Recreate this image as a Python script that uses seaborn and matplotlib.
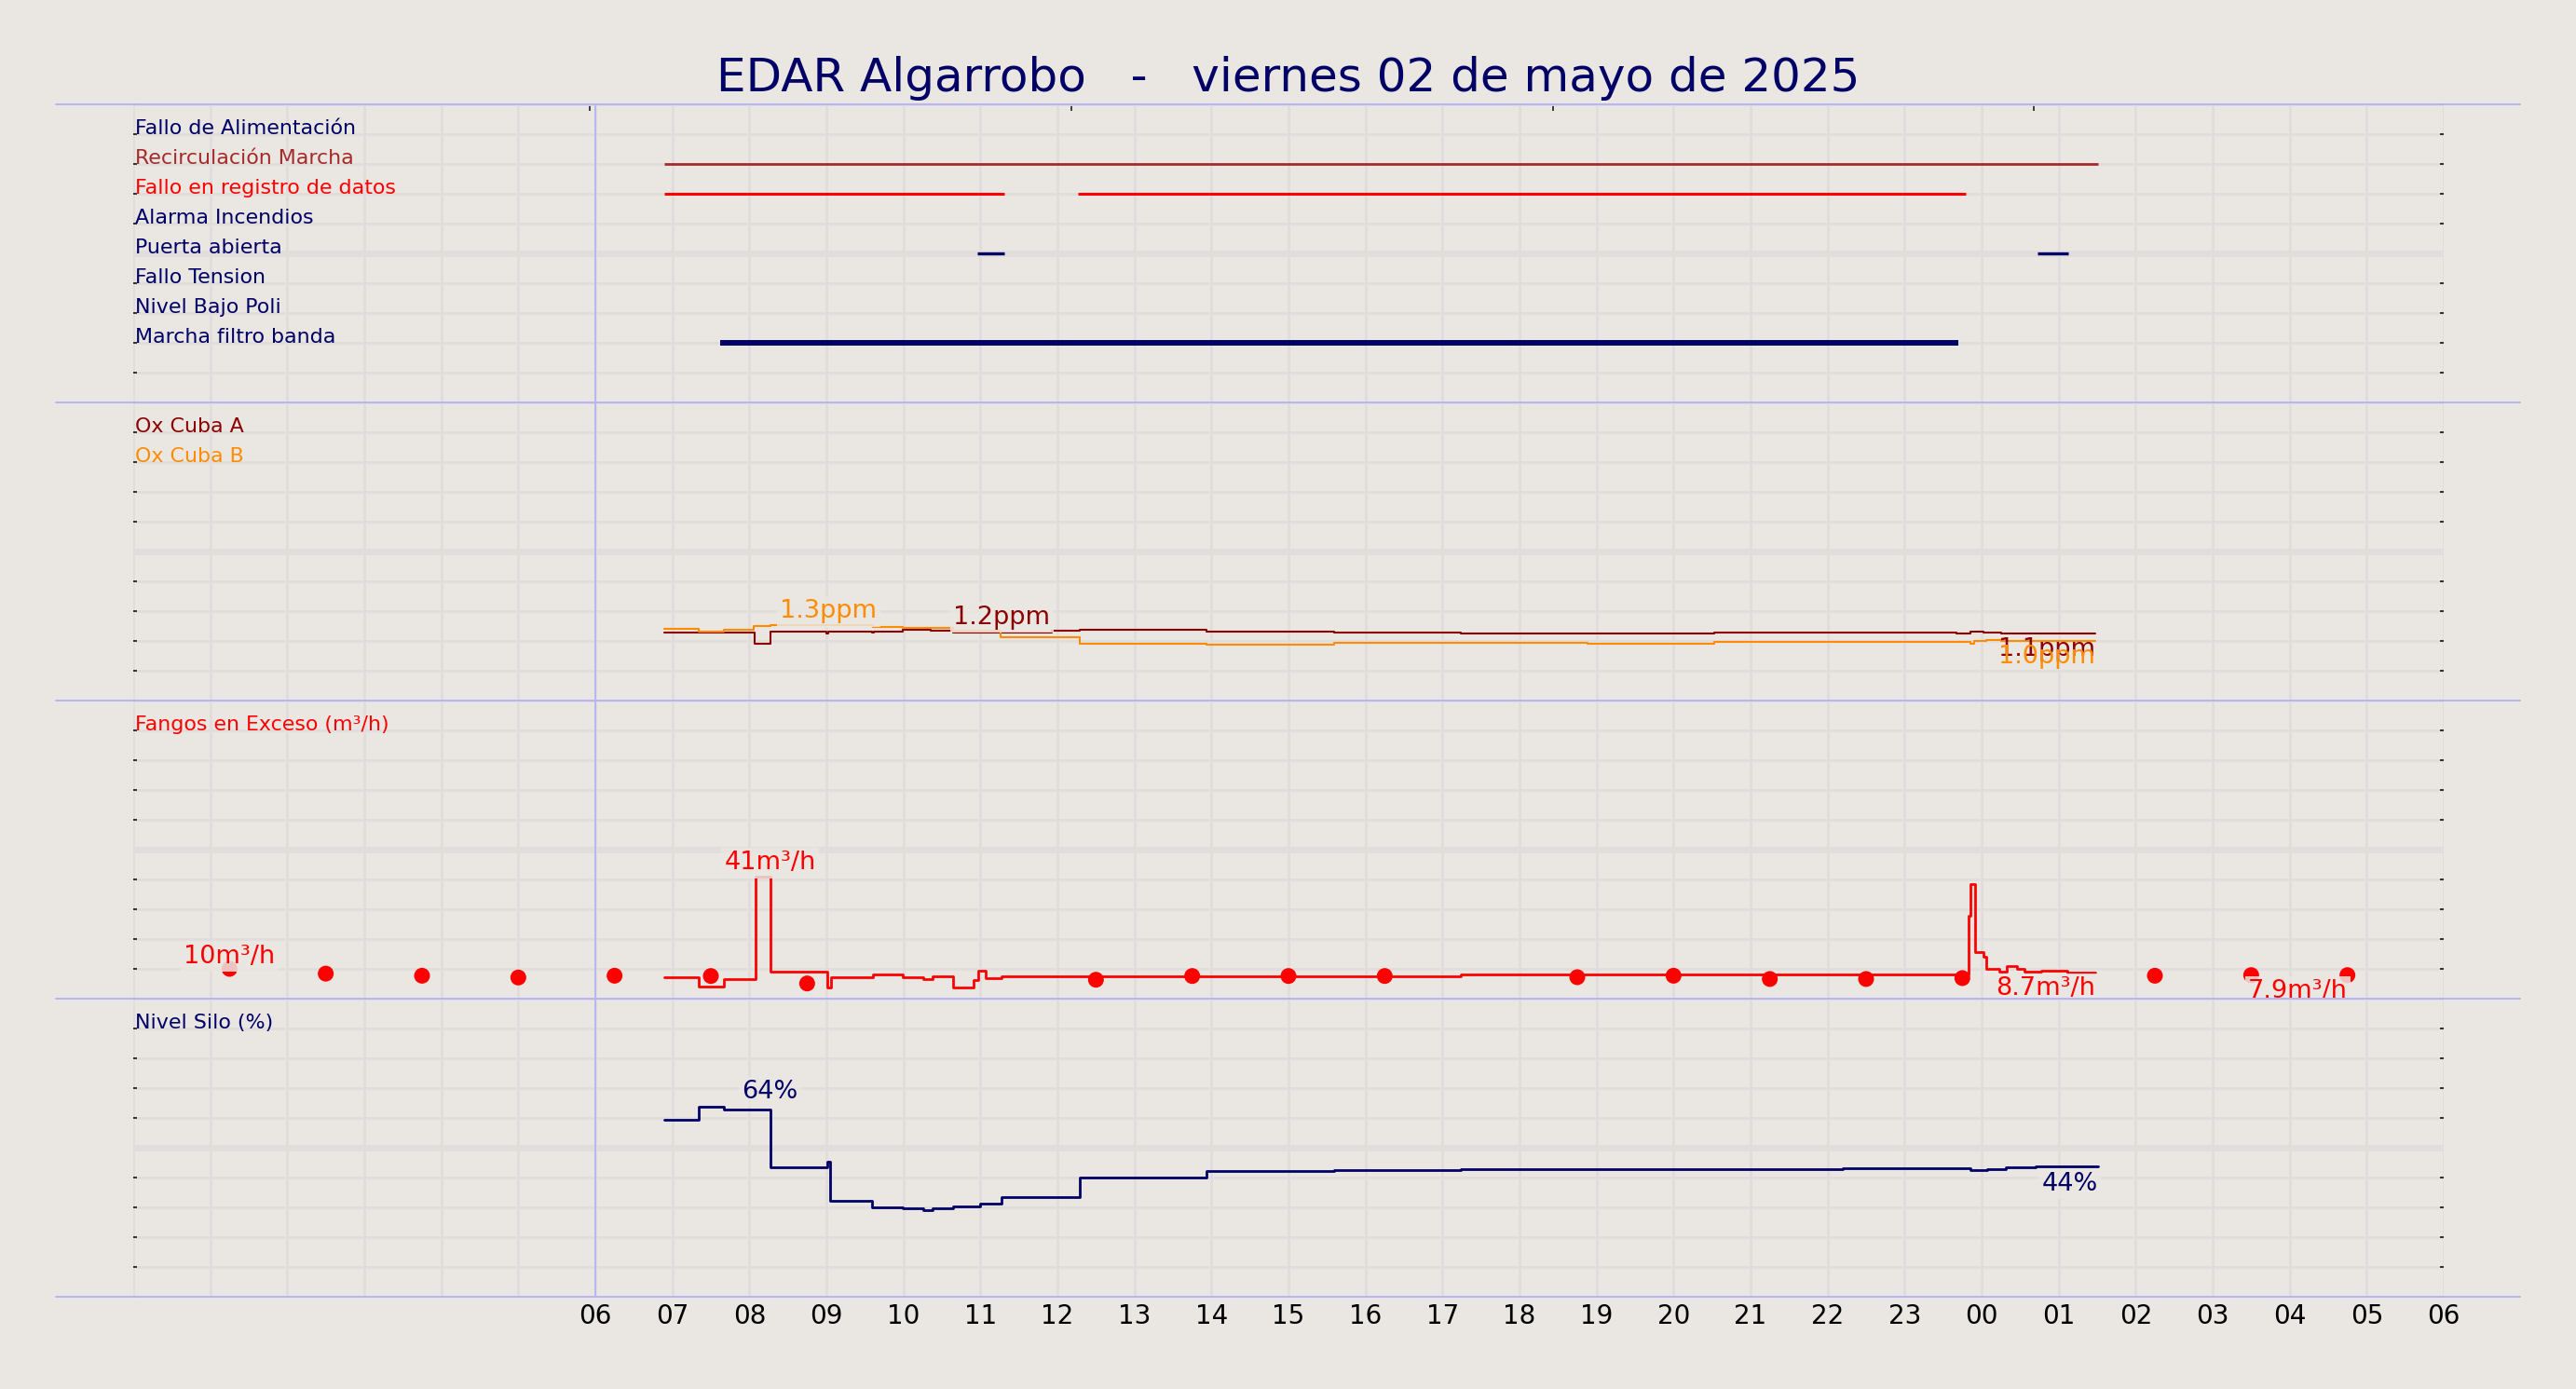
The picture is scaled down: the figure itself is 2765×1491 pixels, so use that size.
import matplotlib
matplotlib.use("Agg")
import matplotlib.pyplot as plt
from matplotlib.lines import Line2D
import numpy as np
import pandas as pd
import seaborn as sns

# ---- data (hours counted from 00:00 of 02/05/2025) ----
TITLE = "EDAR Algarrobo   -   viernes 02 de mayo de 2025"

hour_ticks = list(range(0, 31))
tick_labels = ["", "", "", "", "", "",
               "06", "07", "08", "09", "10", "11", "12", "13", "14", "15",
               "16", "17", "18", "19", "20", "21", "22", "23",
               "00", "01", "02", "03", "04", "05", "06"]

signal_names = ["Fallo de Alimentación", "Recirculación Marcha",
                "Fallo en registro de datos", "Alarma Incendios",
                "Puerta abierta", "Fallo Tension", "Nivel Bajo Poli",
                "Marcha filtro banda"]
recirculacion_on = [(6.89, 25.51)]
fallo_registro_on = [(6.89, 11.31), (12.27, 23.79)]
puerta_on = [(10.96, 11.31), (24.72, 25.12)]
filtro_on = [(7.62, 23.70)]

ox_a_t = [6.90, 8.07, 8.27, 9.00, 9.03, 9.59, 9.62, 9.99, 10.36, 10.64,
          11.93, 12.29, 13.94, 15.59, 17.24, 20.53, 23.67, 23.78, 23.85,
          24.02, 24.26, 25.48]
ox_a_v = [1.14, 0.96, 1.16, 1.12, 1.16, 1.14, 1.16, 1.19, 1.17, 1.14,
          1.17, 1.19, 1.16, 1.14, 1.125, 1.14, 1.12, 1.13, 1.16,
          1.14, 1.125, 1.125]

ox_b_t = [6.90, 7.34, 7.67, 8.06, 8.27, 8.41, 9.60, 9.99, 10.64, 11.26,
          12.29, 13.94, 15.59, 18.88, 20.53, 23.85, 23.90, 24.06, 24.26, 25.48]
ox_b_v = [1.21, 1.16, 1.19, 1.25, 1.27, 1.26, 1.24, 1.22, 1.17, 1.07,
          0.96, 0.94, 0.97, 0.955, 0.99, 0.955, 1.00, 1.01, 1.00, 1.00]

fangos_t = [6.90, 7.34, 7.67, 8.08, 8.27, 9.01, 9.06, 9.60, 9.99, 10.26,
            10.38, 10.64, 10.91, 10.97, 11.07, 11.28, 17.24, 20.53, 23.67,
            23.83, 23.85, 23.91, 24.02, 24.06, 24.23, 24.33, 24.46, 24.56,
            24.77, 25.11, 25.48]
fangos_v = [7.3, 4.0, 6.7, 41.0, 9.0, 3.8, 7.2, 8.1, 7.2, 6.7,
            7.6, 3.75, 6.3, 9.5, 6.9, 7.6, 8.0, 8.1, 8.1,
            27.7, 38.3, 15.7, 14.0, 10.0, 9.0, 10.8, 10.0, 9.0,
            9.4, 8.7, 8.7]

fangos_ref_t = [1.25, 2.5, 3.75, 5.0, 6.25, 7.5, 8.75, 12.5, 13.75, 15.0,
                16.25, 18.75, 20.0, 21.25, 22.5, 23.75, 26.25, 27.5, 28.75]
fangos_ref_v = [10.0, 8.4, 7.7, 7.1, 7.7, 7.6, 5.1, 6.35, 7.6, 7.6,
                7.6, 7.2, 7.7, 6.6, 6.6, 6.9, 7.7, 7.9, 7.9]

silo_t = [6.90, 7.34, 7.67, 8.27, 9.01, 9.05, 9.59, 9.99, 10.26, 10.38,
          10.64, 10.99, 11.28, 12.29, 13.94, 15.59, 17.24, 22.20, 23.85,
          24.07, 24.32, 24.70, 25.51]
silo_v = [59.3, 63.8, 62.8, 43.3, 45.4, 32.1, 30.0, 29.6, 29.2, 29.6,
          30.3, 31.25, 33.3, 40.0, 42.2, 42.5, 42.9, 43.1, 42.6,
          42.9, 43.3, 43.6, 43.6]

# ---- style ----
BG = "#eae6e1"
GRID = "#e1dddc"
SEP = "#b4b4f8"
NAVY = "#000066"
DARKRED = "#8b0000"
ORANGE = "#ff8c00"
RED = "#ff0000"
BROWN = "#a52a2a"

sns.set_theme(style="whitegrid")
plt.rcParams["font.family"] = ["DejaVu Sans"]

W_PX, H_PX = 2765, 1491
fig = plt.figure(figsize=(W_PX / 100, H_PX / 100), dpi=100, facecolor=BG)

AX_L = 143 / W_PX
AX_W = (2623 - 143) / W_PX
PANEL_H = 320


def make_panel(idx, ylim, yticks, mid):
    top = 112 + PANEL_H * idx
    ax = fig.add_axes([AX_L, 1 - (top + PANEL_H) / H_PX, AX_W, PANEL_H / H_PX])
    ax.set_facecolor(BG)
    ax.set_xlim(0, 30)
    ax.set_xticks(hour_ticks)
    ax.set_ylim(*ylim)
    ax.set_yticks(yticks)
    ax.set_axisbelow(True)
    ax.grid(True, color=GRID, lw=2)
    ax.axhline(mid, color=GRID, lw=5, zorder=0.6)
    ax.axvline(6, color=SEP, lw=1.3, zorder=1)
    for s in ax.spines.values():
        s.set_visible(False)
    ax.tick_params(axis="y", direction="in", length=3, width=1.3, color="#222222",
                   left=True, right=True, labelleft=False, labelright=False)
    ax.tick_params(axis="x", length=0, labelbottom=False)
    return ax


def header(ax, y, text, color):
    ax.text(0.02, y, text, color=color, fontsize=15.9, ha="left", va="baseline", zorder=5)


def tag(ax, x, y, text, color, ha, va, dy, box=True):
    bbox = dict(boxstyle="square,pad=0.12", fc=BG, ec="none", alpha=0.85) if box else None
    ax.annotate(text, xy=(x, y), xytext=(0, dy), textcoords="offset points",
                ha=ha, va=va, color=color, fontsize=19.5, zorder=6, bbox=bbox)


def step_line(ax, t, v, color, lw):
    df = pd.DataFrame({"t": t, "v": v})
    sns.lineplot(data=df, x="t", y="v", ax=ax, color=color, lw=lw,
                 drawstyle="steps-post", estimator=None, sort=False, zorder=3)
    ax.set_xlabel("")
    ax.set_ylabel("")


# ---- panel 1: digital signals ----
ax1 = make_panel(0, (10, 0), range(0, 11), 5)
sig_colors = [NAVY, BROWN, RED, NAVY, NAVY, NAVY, NAVY, NAVY]
for i, (name, col) in enumerate(zip(signal_names, sig_colors)):
    header(ax1, i + 1, name, col)
for segs, row, col, lw in [(recirculacion_on, 2, BROWN, 2.0),
                           (fallo_registro_on, 3, RED, 2.2),
                           (puerta_on, 5, NAVY, 2.4),
                           (filtro_on, 8, NAVY, 4.3)]:
    for a, b in segs:
        ax1.hlines(row, a, b, colors=col, lw=lw, zorder=3)
sec = ax1.secondary_xaxis("top")
sec.set_xticks([5.93, 12.18, 18.43, 24.68])
sec.set_xticklabels([])
sec.tick_params(direction="in", length=5, width=1.2, color="#222222")
for s in sec.spines.values():
    s.set_visible(False)

# ---- panel 2: oxygen ----
ax2 = make_panel(1, (0, 5), np.arange(0, 5.01, 0.5), 2.5)
header(ax2, 4.5, "Ox Cuba A", DARKRED)
header(ax2, 4.0, "Ox Cuba B", ORANGE)
step_line(ax2, ox_a_t, ox_a_v, DARKRED, 1.5)
step_line(ax2, ox_b_t, ox_b_v, ORANGE, 1.5)
tag(ax2, 9.03, max(ox_b_v), f"{max(ox_b_v):.1f}ppm", ORANGE, "center", "bottom", 1)
tag(ax2, 11.28, max(ox_a_v), f"{max(ox_a_v):.1f}ppm", DARKRED, "center", "bottom", 0)
tag(ax2, ox_a_t[-1], ox_a_v[-1], f"{ox_a_v[-1]:.1f}ppm", DARKRED, "right", "top", -3, box=False)
tag(ax2, ox_b_t[-1], ox_b_v[-1], f"{ox_b_v[-1]:.1f}ppm", ORANGE, "right", "top", -3, box=False)

# ---- panel 3: excess sludge ----
ax3 = make_panel(2, (0, 100), range(0, 101, 10), 50)
header(ax3, 90, "Fangos en Exceso (m³/h)", RED)
step_line(ax3, fangos_t, fangos_v, RED, 2.0)
sns.scatterplot(x=fangos_ref_t, y=fangos_ref_v, ax=ax3, color=RED, s=150,
                edgecolor="none", zorder=2.8)
tag(ax3, 8.27, max(fangos_v), f"{max(fangos_v):.0f}m³/h", RED, "center", "bottom", 1)
tag(ax3, fangos_ref_t[0], max(fangos_ref_v), f"{max(fangos_ref_v):.0f}m³/h", RED, "center", "bottom", 0)
tag(ax3, fangos_t[-1], fangos_v[-1], f"{fangos_v[-1]:.1f}m³/h", RED, "right", "top", -3)
tag(ax3, fangos_ref_t[-1], fangos_ref_v[-1], f"{fangos_ref_v[-1]:.1f}m³/h", RED, "right", "top", -3)

# ---- panel 4: silo level ----
ax4 = make_panel(3, (0, 100), range(0, 101, 10), 50)
header(ax4, 90, "Nivel Silo (%)", NAVY)
step_line(ax4, silo_t, silo_v, NAVY, 2.0)
tag(ax4, 8.27, max(silo_v), f"{max(silo_v):.0f}%", NAVY, "center", "bottom", 2)
tag(ax4, silo_t[-1], silo_v[-1], f"{silo_v[-1]:.0f}%", NAVY, "right", "top", -4)
ax4.tick_params(axis="x", labelbottom=True, labelsize=20, labelcolor="black", pad=5)
ax4.set_xticklabels(tick_labels)

# ---- separators and title ----
for y in [112, 432, 752, 1072, 1392]:
    fig.add_artist(Line2D([60 / W_PX, 2705 / W_PX], [1 - y / H_PX, 1 - y / H_PX],
                          color=SEP, lw=1.4, transform=fig.transFigure, zorder=10))
fig.text(0.5, 1 - 98 / H_PX, TITLE, ha="center", va="baseline", fontsize=36, color=NAVY)

fig.savefig("out.png", dpi=100, facecolor=BG)
